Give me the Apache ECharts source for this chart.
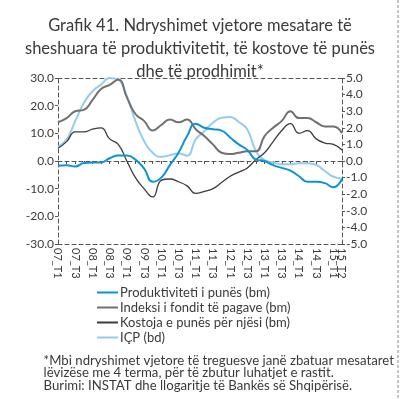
<!DOCTYPE html>
<html>
<head>
<meta charset="utf-8">
<script src="https://cdn.jsdelivr.net/npm/echarts@6/dist/echarts.min.js"></script>
<style>
  html, body { margin: 0; padding: 0; background: #fff; }
  #main { width: 400px; height: 399px; }
</style>
</head>
<body>
<div id="main"></div>
<script>
// quarters 07_T1 ... 15_T2
const quarters = []
for (let y = 7; y <= 15; y++) {
  for (let q = 1; q <= 4; q++) {
    if (y === 15 && q > 2) break
    quarters.push(`${String(y).padStart(2, '0')}_T${q}`)
  }
}

// left axis (bm)
const produktiviteti = [-1.7, -1.5, -2, -0.7, -0.5, -0.5, 1, 2, 2, 0.5, -2.7, -7.5, -6, -1.5, 3, 9, 13.5,
  12, 11.5, 11, 8.5, 6, 4, 0.5, 0, -1.5, -2.5, -3.5, -5.5, -7.5, -7.5, -8, -9.5, -6.5]
const fondiPagave = [14, 15.5, 18, 18.5, 22, 26, 27.5, 29.5, 23, 17, 14.5, 11, 13, 15, 14, 15, 11.5,
  9, 6, 3, 2.5, 3, 3.5, 3.5, 9, 12, 14.5, 18, 15.5, 15.5, 14, 12.5, 12.5, 10]
const kostojaPunes = [4.6, 7, 10.5, 10.5, 11.5, 12, 8, 6, 0, -6, -10, -13, -7, -6.5, -7.5, -9, -11.7,
  -11, -10, -7.8, -5.5, -4, -2.5, 0.5, 3, 7, 11, 13.5, 10, 11, 8, 6.5, 6, 4]
// right axis (bd)
const icp = [0.86, 1.3, 2.4, 3.5, 4.2, 4.6, 5.0, 4.9, 3.9, 2.4, 1.2, 0.5, 0.25, 0.35, 0.45, 0.32, 1.3,
  1.8, 2.3, 2.6, 2.65, 2.35, 1.9, 0.6, 0.05, -0.08, -0.2, -0.2, -0.14, -0.14, -0.24, -0.6, -0.95, -1.05]

const leftTicks = [-30, 30, 10]
const rightTicks = [-5, 5, 1]

const font = 'Lato'
const txt = '#3a3a3a'
const dashLine = { show: true, lineStyle: { color: '#555', type: [4, 3], width: 1 } }
const lastIdx = quarters.length - 1

const chart = echarts.init(document.getElementById('main'))

const labelStyle = { show: true, rotate: -90, margin: 4, fontSize: 11, color: txt, fontFamily: font, hideOverlap: false }

const catAxis = (extra) => Object.assign({
  type: 'category',
  data: quarters,
  boundaryGap: false,
  axisLine: Object.assign({ onZero: false }, dashLine),
  axisTick: { show: false },
  axisLabel: { show: false },
  splitLine: { show: false }
}, extra)

chart.setOption({
  animation: false,
  textStyle: { fontFamily: font },
  title: {
    text: 'Grafik 41. Ndryshimet vjetore mesatare të\nsheshuara të produktivitetit, të kostove të punës\ndhe të prodhimit*',
    left: 'center',
    top: 9,
    textStyle: { fontFamily: font, fontSize: 16.5, fontWeight: 'normal', color: txt, lineHeight: 23, align: 'center' }
  },
  grid: { left: 58, right: 58, top: 78, bottom: 155, containLabel: false },
  legend: {
    orient: 'vertical',
    left: 92,
    top: 280,
    icon: 'rect',
    itemWidth: 21,
    itemHeight: 2,
    itemGap: 0,
    textStyle: { fontFamily: font, fontSize: 13, color: txt, lineHeight: 15, padding: [0, 0, 0, -3] },
    data: ['Produktiviteti i punës (bm)', 'Indeksi i fondit të pagave (bm)', 'Kostoja e punës për njësi (bm)', 'IÇP (bd)']
  },
  xAxis: [
    catAxis({
      position: 'bottom',
      axisLabel: Object.assign({}, labelStyle, { interval: (i) => i % 2 === 0 })
    }),
    catAxis({ position: 'top' }),
    catAxis({
      position: 'bottom',
      axisLine: Object.assign({ onZero: true }, dashLine),
      axisTick: { show: true, length: 3, lineStyle: { color: '#555' }, interval: 0 }
    }),
    catAxis({
      position: 'bottom',
      axisLine: { show: false },
      axisLabel: Object.assign({}, labelStyle, { interval: (i) => i === lastIdx })
    })
  ],
  yAxis: [
    {
      type: 'value',
      min: leftTicks[0], max: leftTicks[1], interval: leftTicks[2],
      axisLine: dashLine,
      axisTick: { show: true, length: 3, lineStyle: { color: '#555' } },
      axisLabel: { color: txt, fontSize: 12, fontFamily: font, margin: 4, formatter: (v) => v.toFixed(1) },
      splitLine: { show: false }
    },
    {
      type: 'value',
      position: 'right',
      min: rightTicks[0], max: rightTicks[1], interval: rightTicks[2],
      axisLine: dashLine,
      axisTick: { show: true, length: 3, lineStyle: { color: '#555' } },
      axisLabel: { color: txt, fontSize: 12, fontFamily: font, margin: 4, formatter: (v) => v.toFixed(1) },
      splitLine: { show: false }
    }
  ],
  series: [
    {
      name: 'Produktiviteti i punës (bm)', type: 'line', data: produktiviteti, smooth: true,
      symbol: 'none', lineStyle: { color: '#0a93d6', width: 2 }, itemStyle: { color: '#0a93d6' }, z: 5
    },
    {
      name: 'Indeksi i fondit të pagave (bm)', type: 'line', data: fondiPagave, smooth: true,
      symbol: 'none', lineStyle: { color: '#707070', width: 2 }, itemStyle: { color: '#707070' }
    },
    {
      name: 'Kostoja e punës për njësi (bm)', type: 'line', data: kostojaPunes, smooth: true,
      symbol: 'none', lineStyle: { color: '#3c3c3c', width: 1.3 }, itemStyle: { color: '#3c3c3c' }
    },
    {
      name: 'IÇP (bd)', type: 'line', data: icp, yAxisIndex: 1, smooth: true,
      symbol: 'none', lineStyle: { color: '#95ccee', width: 2 }, itemStyle: { color: '#95ccee' }, z: 1
    }
  ],
  graphic: [
    {
      type: 'text', right: 6, top: 354,
      style: {
        text: '*Mbi ndryshimet vjetore të treguesve janë zbatuar mesataret\nlëvizëse me 4 terma, për të zbutur luhatjet e rastit.\nBurimi: INSTAT dhe llogaritje të Bankës së Shqipërisë.',
        align: 'right', fill: txt, font: `13.2px ${font}`, lineHeight: 12.5
      }
    },
    {
      type: 'line', shape: { x1: 398, y1: 0, x2: 398, y2: 399 },
      style: { stroke: '#888', lineWidth: 1, lineDash: [3, 2] }
    }
  ]
})
</script>
</body>
</html>
